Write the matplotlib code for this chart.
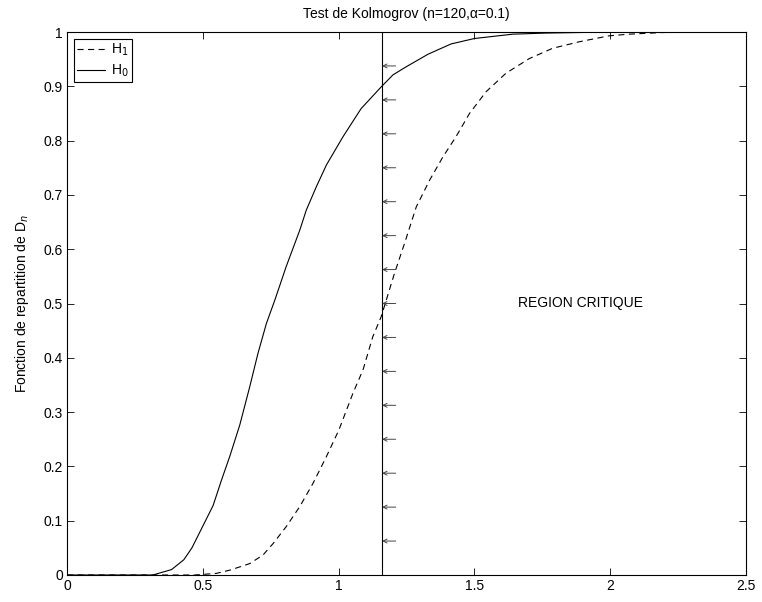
import matplotlib
matplotlib.use("Agg")
import matplotlib.pyplot as plt

plt.rcParams['font.family'] = ['Liberation Sans', 'DejaVu Sans']
plt.rcParams['font.size'] = 10

# H0 : fonction de repartition empirique de Dn sous H0
x_h0 = [0.0, 0.316, 0.385, 0.43, 0.46, 0.495, 0.538, 0.569, 0.599, 0.636,
        0.673, 0.703, 0.734, 0.765, 0.807, 0.857, 0.881, 0.918, 0.955, 1.016,
        1.083, 1.157, 1.2, 1.249, 1.329, 1.414, 1.5, 1.641, 1.76, 2.0, 2.5]
y_h0 = [0.0, 0.0, 0.01, 0.028, 0.05, 0.085, 0.128, 0.175, 0.218, 0.276,
        0.347, 0.408, 0.463, 0.506, 0.568, 0.635, 0.672, 0.715, 0.755, 0.807,
        0.859, 0.899, 0.921, 0.936, 0.959, 0.978, 0.988, 0.996, 0.998, 1.0, 1.0]

# H1 : sous l'alternative
x_h1 = [0.0, 0.47, 0.55, 0.60, 0.673, 0.722, 0.759, 0.807, 0.857, 0.906,
        0.955, 1.001, 1.053, 1.09, 1.126, 1.157, 1.206, 1.243, 1.286, 1.335,
        1.384, 1.432, 1.482, 1.543, 1.616, 1.702, 1.788, 1.886, 1.996, 2.07,
        2.19, 2.3, 2.5]
y_h1 = [0.0, 0.0, 0.003, 0.009, 0.021, 0.037, 0.058, 0.089, 0.126, 0.169,
        0.218, 0.267, 0.335, 0.378, 0.439, 0.476, 0.556, 0.611, 0.678, 0.727,
        0.770, 0.807, 0.850, 0.890, 0.924, 0.951, 0.970, 0.982, 0.993, 0.996,
        0.999, 1.0, 1.0]

d_crit = 1.16
arrow_y = [k / 16 for k in range(1, 16)]

x_ticks = [0, 0.5, 1, 1.5, 2, 2.5]
x_labels = ['0', '0.5', '1', '1.5', '2', '2.5']
y_ticks = [i / 10 for i in range(11)]
y_labels = ['0'] + ['%.1f' % v for v in y_ticks[1:-1]] + ['1']

fig = plt.figure(figsize=(7.62, 6.02), dpi=100)
ax = fig.add_axes([67 / 762, 27 / 602, 679 / 762, 543 / 602])

ax.plot(x_h1, y_h1, color='black', lw=0.8, linestyle=(0, (5.5, 4)), label=r'H$_1$')
ax.plot(x_h0, y_h0, color='black', lw=0.8, label=r'H$_0$')

# seuil critique et fleches vers la region critique
ax.axvline(d_crit, color='black', lw=0.8)
for y in arrow_y:
    ax.annotate('', xy=(d_crit, y), xytext=(d_crit + 0.05, y),
                arrowprops=dict(arrowstyle='->', color='#444444', lw=0.7,
                                shrinkA=0, shrinkB=0, mutation_scale=7))

ax.text(1.66, 0.5, 'REGION CRITIQUE', fontsize=10, va='center', ha='left')

ax.set_xlim(0, 2.5)
ax.set_ylim(0, 1)
ax.set_xticks(x_ticks)
ax.set_xticklabels(x_labels)
ax.set_yticks(y_ticks)
ax.set_yticklabels(y_labels)
ax.tick_params(direction='in', top=True, right=True, length=5, width=0.6, pad=3)
for s in ax.spines.values():
    s.set_linewidth(0.8)

ax.set_title('Test de Kolmogrov (n=120,\u03b1=0.1)', fontsize=10, pad=10)
ax.set_ylabel(r'Fonction de repartition de D$_n$', fontsize=10, labelpad=9)

leg = ax.legend(loc='upper left', fancybox=False, edgecolor='black',
                framealpha=1, borderaxespad=0.5, handlelength=2.0,
                labelspacing=0.35, borderpad=0.2, handletextpad=0.5,
                fontsize=10)
leg.get_frame().set_linewidth(0.8)

fig.savefig('out.png', dpi=100)
